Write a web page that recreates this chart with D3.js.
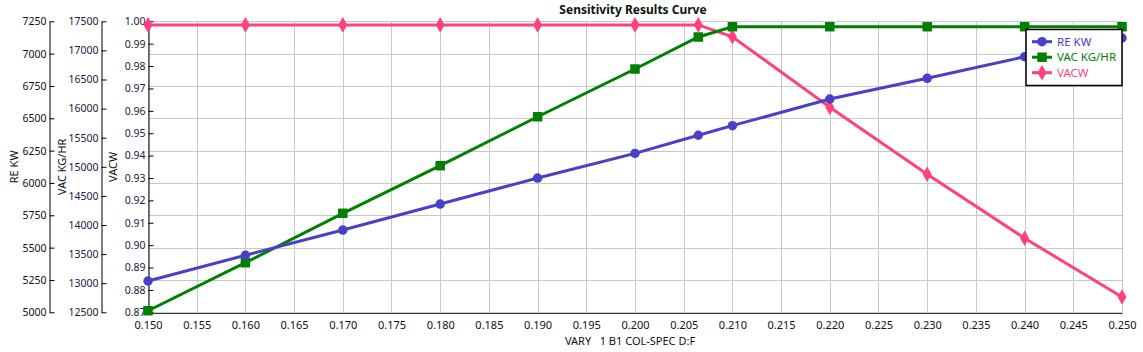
<!DOCTYPE html>
<html>
<head>
<meta charset="utf-8">
<script src="https://cdn.jsdelivr.net/npm/d3@7"></script>
<style>
body { margin: 0; background: #fff; }
svg text { font-family: "Segoe UI", "Noto Sans", "DejaVu Sans", sans-serif; }
</style>
</head>
<body>
<svg id="chart" width="1143" height="352"></svg>
<script>
// data
var xValues = [0.150, 0.160, 0.170, 0.180, 0.190, 0.200, 0.2065, 0.210, 0.220, 0.230, 0.240, 0.250];
var reKw    = [5242, 5441, 5636, 5837, 6038, 6229, 6369, 6443, 6649, 6809, 6976, 7121];
var vacKgHr = [12527, 13352, 14201, 15019, 15860, 16680, 17230, 17407, 17407, 17407, 17407, 17407];
var vacw    = [0.9984, 0.9984, 0.9984, 0.9984, 0.9984, 0.9984, 0.9984, 0.9931, 0.9616, 0.9317, 0.9031, 0.8768];

var xTicks    = d3.range(0, 21).map(function(i){ return 0.15 + i * 0.005; });
var reTicks   = d3.range(5000, 7251, 250);
var vacTicks  = d3.range(12500, 17501, 500);
var vacwTicks = d3.range(0, 14).map(function(i){ return 0.87 + i * 0.01; });

var seriesNames = ["RE KW", "VAC KG/HR", "VACW"];
var chartTitle = "Sensitivity Results Curve";
var xTitle = "VARY   1 B1 COL-SPEC D:F";

var svg = d3.select("#chart");
// plot area (note: "top" is reserved on window, so use pTop etc)
var pLeft = 148, pRight = 1122, pTop = 21.3, pBottom = 312.3;

var x = d3.scaleLinear().domain([0.15, 0.25]).range([pLeft, pRight]);
var yRe = d3.scaleLinear().domain([5000, 7250]).range([pBottom, pTop]);
var yVac = d3.scaleLinear().domain([12500, 17500]).range([pBottom, pTop]);
var yVacw = d3.scaleLinear().domain([0.87, 1.00]).range([pBottom, pTop]);

// grid
svg.append("g").selectAll("line").data(xTicks).enter().append("line")
    .attr("x1", function(d){ return Math.round(x(d)) + 0.5; })
    .attr("x2", function(d){ return Math.round(x(d)) + 0.5; })
    .attr("y1", pTop).attr("y2", pBottom)
    .attr("stroke", "#c8c8c8").attr("stroke-width", 1);
svg.append("g").selectAll("line").data(reTicks.slice(1)).enter().append("line")
    .attr("x1", pLeft).attr("x2", pRight)
    .attr("y1", function(d){ return Math.round(yRe(d)) + 0.5; })
    .attr("y2", function(d){ return Math.round(yRe(d)) + 0.5; })
    .attr("stroke", "#c8c8c8").attr("stroke-width", 1);

// y axes
function yAxis(scale, ticks, fmt, xPos, label, labelX, color){
    var g = svg.append("g").attr("transform", "translate(" + xPos + ",0)")
        .call(d3.axisLeft(scale).tickValues(ticks).tickFormat(fmt)
            .tickSizeInner(-5).tickSizeOuter(0).tickPadding(3));
    g.select(".domain").attr("stroke", "#000");
    g.selectAll(".tick line").attr("stroke", "#000");
    g.selectAll("text").attr("font-size", "10.5px").attr("fill", color);
    svg.append("text")
        .attr("transform", "translate(" + labelX + "," + ((pTop + pBottom) / 2) + ") rotate(-90)")
        .attr("text-anchor", "middle")
        .attr("dy", "0.35em")
        .attr("font-size", "11px")
        .attr("fill", "#111")
        .text(label);
}
yAxis(yRe, reTicks, d3.format("d"), 49.5, "RE KW", 14, "#111");
yAxis(yVac, vacTicks, d3.format("d"), 101.5, "VAC KG/HR", 62, "#1e1840");
yAxis(yVacw, vacwTicks, d3.format(".2f"), 148.5, "VACW", 113, "#1a2040");

// x axis
var gx = svg.append("g").attr("transform", "translate(0," + (pBottom + 0.5) + ")")
    .call(d3.axisBottom(x).tickValues(xTicks).tickFormat(d3.format(".3f"))
        .tickSizeInner(0).tickSizeOuter(0).tickPadding(8));
gx.select(".domain").attr("stroke", "#000");
gx.selectAll("text").attr("font-size", "11px").attr("fill", "#111");

svg.append("text")
    .attr("x", 630).attr("y", 345)
    .attr("text-anchor", "middle")
    .attr("font-size", "11px")
    .attr("fill", "#111")
    .attr("xml:space", "preserve")
    .style("white-space", "pre")
    .text(xTitle);

svg.append("text")
    .attr("x", 633).attr("y", 14)
    .attr("text-anchor", "middle")
    .attr("font-size", "12px")
    .attr("font-weight", "bold")
    .attr("fill", "#111")
    .text(chartTitle);

// series
var series = [
    { name: seriesNames[0], vals: reKw, y: yRe, color: "#4a40c8", shape: d3.symbolCircle, size: 70 },
    { name: seriesNames[1], vals: vacKgHr, y: yVac, color: "#008000", shape: d3.symbolSquare, size: 90 },
    { name: seriesNames[2], vals: vacw, y: yVacw, color: "#ff4081", shape: d3.symbolDiamond, size: 70 }
];

series.slice().reverse().forEach(function(s){
    var pts = xValues.map(function(xv, i){ return [x(xv), s.y(s.vals[i])]; });
    svg.append("path")
        .attr("d", d3.line()(pts))
        .attr("fill", "none")
        .attr("stroke", s.color)
        .attr("stroke-width", 3);
    svg.append("g").selectAll("path").data(pts).enter().append("path")
        .attr("transform", function(d){ return "translate(" + d[0] + "," + d[1] + ")"; })
        .attr("d", d3.symbol().type(s.shape).size(s.size))
        .attr("fill", s.color);
});

// legend
var lg = svg.append("g");
lg.append("rect")
    .attr("x", 1026).attr("y", 29.5).attr("width", 96).attr("height", 56)
    .attr("fill", "#fff").attr("stroke", "#000").attr("stroke-width", 1.5);
series.forEach(function(s, i){
    var yy = 41.7 + i * 15.5;
    lg.append("line")
        .attr("x1", 1032).attr("x2", 1052).attr("y1", yy).attr("y2", yy)
        .attr("stroke", s.color).attr("stroke-width", 3);
    lg.append("path")
        .attr("transform", "translate(1042," + yy + ")")
        .attr("d", d3.symbol().type(s.shape).size(s.size))
        .attr("fill", s.color);
    lg.append("text")
        .attr("x", 1057).attr("y", yy).attr("dy", "0.35em")
        .attr("font-size", "11.5px")
        .attr("fill", s.color)
        .text(s.name);
});
</script>
</body>
</html>
